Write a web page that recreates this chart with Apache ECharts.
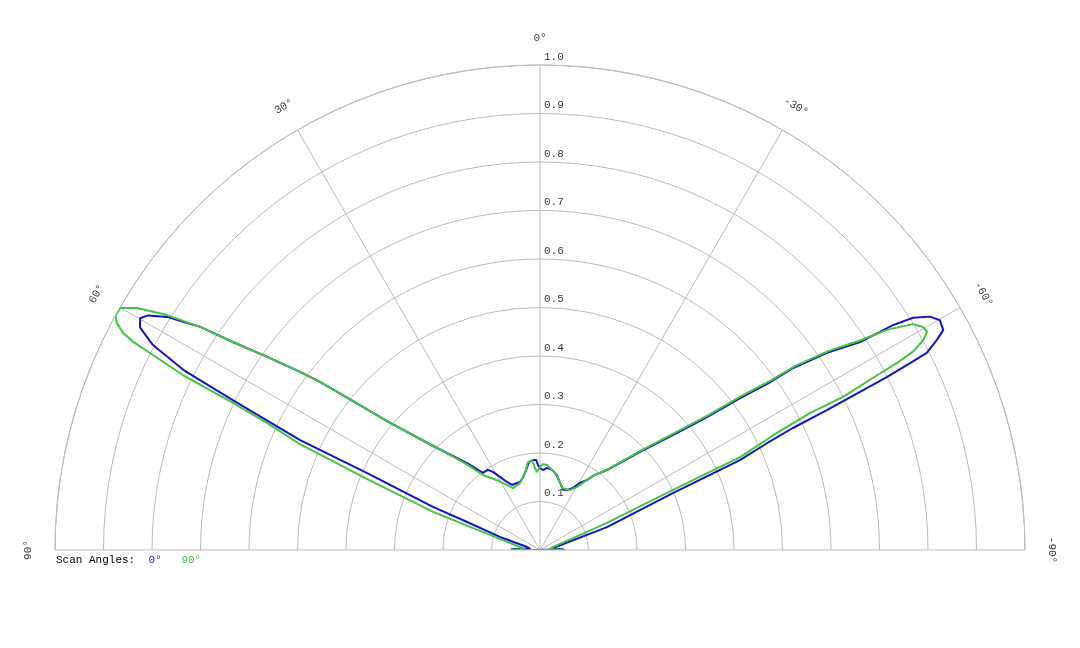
<!DOCTYPE html>
<html>
<head>
<meta charset="utf-8">
<script src="https://cdn.jsdelivr.net/npm/echarts@6/dist/echarts.min.js"></script>
<style>
html,body{margin:0;padding:0;background:#fff;}
#chart{width:1080px;height:648px;}
</style>
</head>
<body>
<div id="chart"></div>
<script>
// Scan angle 0° (blue): angle in degrees, relative magnitude
var blueAngle = [90, 88.5, 86, 83, 77, 72, 69, 68.1, 66, 65.4, 64, 63.2, 62.1, 60.9, 59.9, 59.1, 58, 57.4, 56.7, 55.9, 54.7, 53.4, 52.6, 49.7, 45.3, 40, 36.5, 33, 31.1, 28.7, 25.9, 23.3, 18.9, 16.4, 13.3, 9.9, 7.1, 4.4, 2.5, 1.3, 0, -2.1, -4.9, -8.5, -11, -14, -17.9, -21, -25, -28, -30.8, -33.9, -35.6, -39.9, -45.6, -49.2, -51.5, -52.8, -53.9, -54.3, -55.5, -57, -57.5, -58.1, -59.1, -60.1, -61.4, -62.1, -63, -63.2, -63.5, -63.7, -64, -64.25, -64.8, -65.8, -66.8, -71.1, -81.3, -85, -87.5, -90];
var blueR = [0, 0.06, 0.035, 0.02, 0.027, 0.087, 0.161, 0.238, 0.39, 0.544, 0.705, 0.824, 0.903, 0.944, 0.953, 0.942, 0.907, 0.873, 0.838, 0.765, 0.689, 0.616, 0.571, 0.405, 0.299, 0.234, 0.198, 0.197, 0.188, 0.172, 0.156, 0.146, 0.146, 0.146, 0.153, 0.167, 0.183, 0.186, 0.186, 0.175, 0.169, 0.165, 0.17, 0.167, 0.162, 0.153, 0.141, 0.133, 0.137, 0.145, 0.161, 0.174, 0.188, 0.215, 0.289, 0.363, 0.44, 0.518, 0.587, 0.643, 0.718, 0.787, 0.863, 0.906, 0.937, 0.951, 0.947, 0.926, 0.895, 0.855, 0.799, 0.736, 0.658, 0.579, 0.517, 0.452, 0.298, 0.146, 0.027, 0.02, 0.047, 0];

// Scan angle 90° (green)
var greenAngle = [90, 89.5, 87, 81, 74.6, 70.4, 67.7, 66.2, 65.05, 64.4, 63.9, 63.2, 62.9, 62.5, 61.8, 61.05, 60.05, 59, 57.8, 56.7, 55.9, 54.7, 53.4, 52.6, 49.7, 45.3, 40.5, 37.2, 31.6, 26.9, 23.5, 16.6, 11, 7.8, 5.1, 3.5, 2.2, 0, -2, -4.7, -8.5, -12.8, -16.6, -20.4, -26.6, -30.4, -33.9, -36, -40, -45.5, -49, -51.3, -52.6, -53.7, -54.2, -55.4, -56.8, -57.6, -58.8, -59.8, -60.6, -61.3, -62, -62.35, -62.6, -63.2, -63.1, -63.7, -65.1, -65.7, -68, -77, -85, -89.5, -90];
var greenR = [0, 0.06, 0.03, 0.027, 0.086, 0.234, 0.386, 0.541, 0.621, 0.702, 0.82, 0.901, 0.942, 0.969, 0.99, 1.0, 0.999, 0.969, 0.909, 0.838, 0.765, 0.689, 0.616, 0.571, 0.405, 0.299, 0.232, 0.194, 0.169, 0.15, 0.139, 0.144, 0.162, 0.183, 0.186, 0.169, 0.161, 0.171, 0.177, 0.176, 0.167, 0.159, 0.144, 0.136, 0.138, 0.151, 0.174, 0.19, 0.218, 0.293, 0.368, 0.445, 0.523, 0.592, 0.648, 0.722, 0.79, 0.847, 0.899, 0.914, 0.916, 0.901, 0.871, 0.831, 0.783, 0.7, 0.624, 0.545, 0.455, 0.301, 0.149, 0.027, 0.02, 0.052, 0];

var radiusTicks = [0.1, 0.2, 0.3, 0.4, 0.5, 0.6, 0.7, 0.8, 0.9, 1.0];
var angleTicks = [90, 60, 30, 0, -30, -60, -90];
var seriesNames = ['0°', '90°'];

var BLUE = '#1414c8';
var GREEN = '#44c444';
var FONT = 'Liberation Mono';
var LABEL_GAP = 27; // px beyond the outer ring (in the label's rotated frame)

function zip(rs, as) { return rs.map(function (r, i) { return [r, as[i]]; }); }

var chart = echarts.init(document.getElementById('chart'), null, {renderer: 'canvas'});
chart.setOption({
  animation: false,
  backgroundColor: '#fff',
  title: {
    left: 56, top: 555, padding: 0,
    text: '{a|Scan Angles:}  {b|' + seriesNames[0] + '}   {c|' + seriesNames[1] + '}',
    textStyle: {
      fontFamily: FONT, fontSize: 11, fontWeight: 'normal',
      rich: {
        a: {color: '#000', fontFamily: FONT, fontSize: 11},
        b: {color: BLUE, fontFamily: FONT, fontSize: 11},
        c: {color: GREEN, fontFamily: FONT, fontSize: 11}
      }
    }
  },
  polar: {center: [540, 550], radius: 485},
  angleAxis: {
    type: 'value', min: -90, max: 90, interval: 30,
    startAngle: 0, endAngle: 180, clockwise: false,
    axisLine: {show: true, lineStyle: {color: '#bbb', width: 1}},
    axisTick: {show: false},
    axisLabel: {show: false},
    splitLine: {show: true, lineStyle: {color: '#bbb', width: 1}}
  },
  radiusAxis: {
    type: 'value', min: 0, max: 1, interval: 0.1,
    axisLine: {show: false},
    axisTick: {show: false},
    axisLabel: {show: false},
    splitLine: {show: true, lineStyle: {color: '#bbb', width: 1}}
  },
  series: [
    {
      name: seriesNames[0], type: 'line', coordinateSystem: 'polar',
      data: zip(blueR, blueAngle), symbol: 'none', smooth: false,
      lineStyle: {color: BLUE, width: 2}, z: 3
    },
    {
      name: seriesNames[1], type: 'line', coordinateSystem: 'polar',
      data: zip(greenR, greenAngle), symbol: 'none', smooth: false,
      lineStyle: {color: GREEN, width: 2}, z: 4
    },
    {
      type: 'scatter', coordinateSystem: 'polar', symbolSize: 0, silent: true,
      data: radiusTicks.map(function (r) { return [r, 0]; }),
      label: {
        show: true, position: [4, -8], align: 'left', verticalAlign: 'middle',
        fontFamily: FONT, fontSize: 11, color: '#000',
        formatter: function (p) { return p.value[0].toFixed(1); }
      }
    },
    {
      type: 'scatter', coordinateSystem: 'polar', symbolSize: 0, silent: true,
      data: angleTicks.map(function (a) {
        return {value: [1.0, a], label: {rotate: a}};
      }),
      label: {
        show: true, position: 'inside', align: 'center', verticalAlign: 'middle',
        offset: [0, -LABEL_GAP],
        fontFamily: FONT, fontSize: 11, color: '#000',
        formatter: function (p) { return p.value[1] + '°'; }
      }
    }
  ]
});
</script>
</body>
</html>
